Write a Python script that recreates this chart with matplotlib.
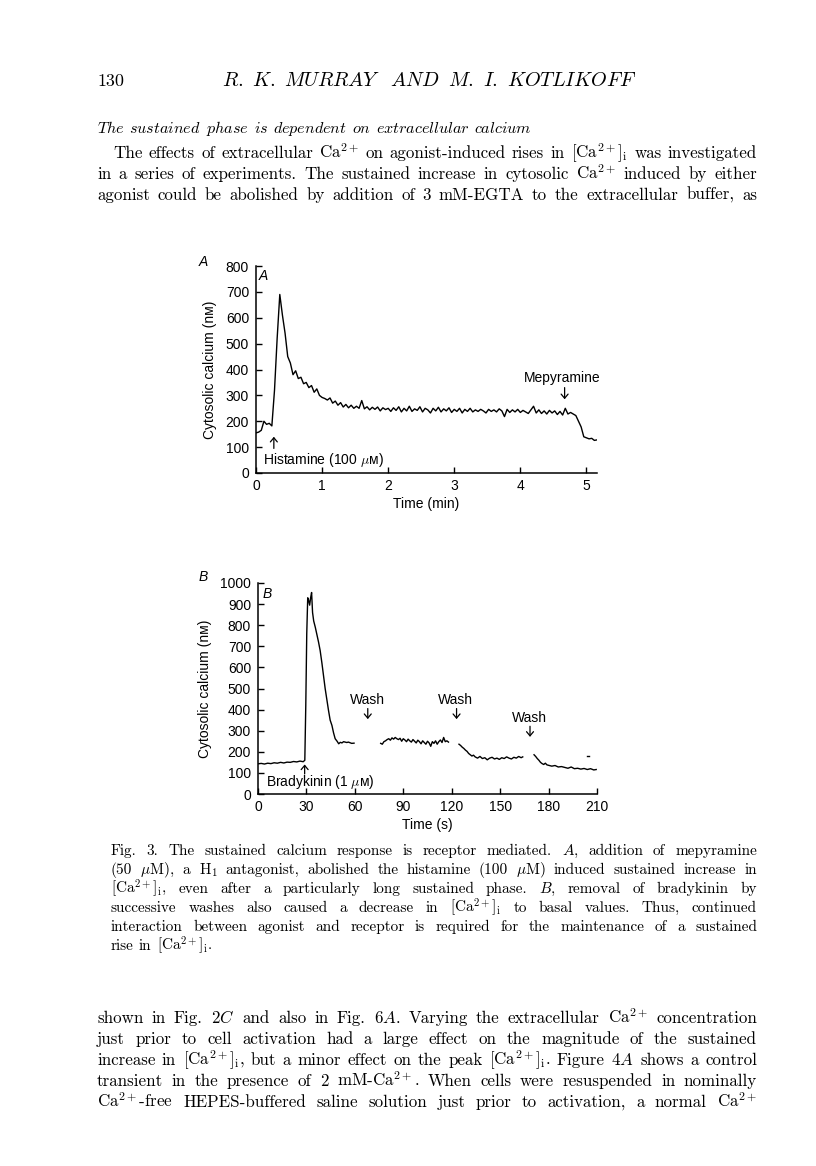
import numpy as np
import matplotlib
matplotlib.use('Agg')
import matplotlib.pyplot as plt

# ---------------------- global style ----------------------
plt.rcParams.update({
    'font.family': ['Liberation Sans', 'DejaVu Sans'],
    'mathtext.fontset': 'cm',
    'axes.linewidth': 1.1,
    'axes.spines.top': False,
    'axes.spines.right': False,
    'xtick.direction': 'in',
    'ytick.direction': 'in',
    'xtick.major.size': 4,
    'ytick.major.size': 4,
    'xtick.major.width': 1.0,
    'ytick.major.width': 1.0,
    'xtick.labelsize': 10,
    'ytick.labelsize': 10,
    'axes.labelsize': 10,
})

W, H = 816, 1166
SERIF = ['cmr10', 'DejaVu Sans']

# ---------------------- data: panel A (histamine, min) ----------------------
hist_dt = 0.04  # sampling step (min)
hist_ca = [
    155, 158, 165, 200, 188, 192, 182, 320, 520, 690,
    610, 540, 450, 425, 380, 395, 365, 370, 345, 350,
    330, 338, 312, 325, 300, 292, 288, 282, 290, 270,
    278, 262, 272, 255, 265, 252, 262, 250, 258, 250,
    280, 248, 256, 244, 254, 246, 255, 240, 252, 245,
    250, 238, 252, 242, 256, 236, 250, 240, 258, 238,
    248, 242, 256, 236, 250, 244, 232, 250, 240, 254,
    236, 248, 240, 252, 234, 246, 238, 250, 232, 246,
    238, 250, 236, 244, 238, 246, 240, 232, 246, 238,
    244, 236, 248, 240, 218, 246, 234, 244, 236, 246,
    234, 242, 236, 230, 244, 258, 232, 244, 230, 240,
    228, 242, 232, 240, 226, 238, 224, 250, 228, 234,
    228, 222, 200, 178, 140, 136, 132, 134, 126, 128,
]
hist_time = np.arange(len(hist_ca)) * hist_dt
a_yticks = [0, 100, 200, 300, 400, 500, 600, 700, 800]
a_xticks = [0, 1, 2, 3, 4, 5]

# ---------------------- data: panel B (bradykinin, s) ----------------------
bk_t1 = [0, 2, 4, 6, 8, 10, 12, 14, 16, 18, 20, 22, 24, 26, 28, 29, 29.6, 30.2,
         30.8, 31.3, 32, 32.6, 33.2, 33.8, 34.5, 35.5, 36.5, 37.5, 38.5, 39.6,
         40.6, 41.6, 42.6, 43.7, 44.7, 45.8, 46.8, 47.8, 49, 50, 51, 52, 53, 54,
         55, 56, 57, 58, 59.5]
bk_v1 = [143, 145, 142, 146, 144, 148, 146, 150, 147, 151, 150, 154, 152, 156,
         153, 160, 420, 760, 930, 920, 895, 930, 955, 860, 820, 790, 755, 720,
         680, 620, 560, 500, 450, 395, 350, 325, 290, 262, 250, 238, 245, 242,
         248, 246, 244, 246, 243, 240, 241]
bk_t2 = [76, 77, 78, 79, 80, 81, 82, 83, 84, 85, 86, 87, 88, 89, 90, 91, 92, 93,
         94, 95, 96, 97, 98, 99, 100, 101, 102, 103, 104, 105, 106, 107, 108,
         109, 110, 111, 112, 113, 114, 115, 116, 117, 118]
bk_v2 = [240, 236, 248, 252, 258, 262, 255, 266, 260, 268, 262, 258, 264, 250,
         262, 256, 248, 260, 252, 246, 258, 250, 242, 255, 248, 238, 252, 244,
         236, 250, 242, 226, 248, 240, 252, 236, 248, 256, 244, 268, 248, 252, 246]
bk_t3 = [124.5, 125.5, 126.5, 127.5, 128.5, 129.5, 130.5, 131.5, 132.5, 133.5,
         134.5, 136, 137.5, 139, 140.5, 142, 143.5, 145, 146.5, 148, 149.5, 151,
         152.5, 154, 155.5, 157, 158.5, 160, 161.5, 163, 164]
bk_v3 = [236, 230, 222, 216, 208, 202, 192, 186, 180, 184, 176, 170, 178, 168,
         172, 162, 170, 174, 166, 170, 164, 172, 168, 176, 170, 166, 174, 170,
         178, 172, 176]
bk_t4 = [171, 172, 173, 174, 175, 176, 177, 178, 179, 180, 182, 184, 186, 188,
         190, 192, 194, 196, 198, 200, 202, 204, 206, 208, 209.5]
bk_v4 = [186, 178, 168, 160, 150, 144, 140, 146, 138, 136, 132, 135, 128, 130,
         126, 122, 128, 120, 122, 118, 121, 116, 120, 114, 116]
bk_dot_t = [204, 205]
bk_dot_v = [182, 182]
b_yticks = [0, 100, 200, 300, 400, 500, 600, 700, 800, 900, 1000]
b_xticks = [0, 30, 60, 90, 120, 150, 180, 210]
wash_times = [67.5, 122.5, 168]
wash_levels = [445, 445, 361]

# ---------------------- page text ----------------------
header = "R. K. MURRAY AND M. I. KOTLIKOFF"
heading = "The sustained phase is dependent on extracellular calcium"
para1 = [
    "The effects of extracellular Ca$^{2+}$ on agonist-induced rises in [Ca$^{2+}$]$_\\mathrm{i}$ was investigated",
    "in a series of experiments. The sustained increase in cytosolic Ca$^{2+}$ induced by either",
    "agonist could be abolished by addition of 3 mM-EGTA to the extracellular buffer, as",
]
caption = [
    "Fig. 3. The sustained calcium response is receptor mediated. $A$, addition of mepyramine",
    "(50 $\\mu$M), a H$_1$ antagonist, abolished the histamine (100 $\\mu$M) induced sustained increase in",
    "[Ca$^{2+}$]$_\\mathrm{i}$, even after a particularly long sustained phase. $B$, removal of bradykinin by",
    "successive washes also caused a decrease in [Ca$^{2+}$]$_\\mathrm{i}$ to basal values. Thus, continued",
    "interaction between agonist and receptor is required for the maintenance of a sustained",
    "rise in [Ca$^{2+}$]$_\\mathrm{i}$.",
]
para2 = [
    "shown in Fig. 2$C$ and also in Fig. 6$A$. Varying the extracellular Ca$^{2+}$ concentration",
    "just prior to cell activation had a large effect on the magnitude of the sustained",
    "increase in [Ca$^{2+}$]$_\\mathrm{i}$, but a minor effect on the peak [Ca$^{2+}$]$_\\mathrm{i}$. Figure 4$A$ shows a control",
    "transient in the presence of 2 mM-Ca$^{2+}$. When cells were resuspended in nominally",
    "Ca$^{2+}$-free HEPES-buffered saline solution just prior to activation, a normal Ca$^{2+}$",
]

fig = plt.figure(figsize=(W / 100, H / 100), dpi=100)
fig.patch.set_facecolor('white')
renderer = fig.canvas.get_renderer()


def text_line(y, line, x0, x1=None, size=12.2, gap_em=0.33, center=None, min_gap=5):
    # place each word separately so the line can be justified like the page
    words = line.split()
    objs = [fig.text(0, 1 - y / H, w, fontsize=size, family=SERIF,
                     va='baseline', ha='left') for w in words]
    while True:
        widths = [o.get_window_extent(renderer).width for o in objs]
        if x1 is None or len(words) == 1:
            gap = size * 100 / 72 * gap_em
            break
        gap = (x1 - x0 - sum(widths)) / (len(words) - 1)
        if gap >= min_gap or size < 9:
            break
        size -= 0.2
        for o in objs:
            o.set_fontsize(size)
    if center is not None:
        x0 = center - (sum(widths) + gap * (len(words) - 1)) / 2
    x = x0
    for o, w in zip(objs, widths):
        o.set_x(x / W)
        x += w + gap


def italic(s):
    return " ".join(
        "".join("$\\mathit{%s}$" % c if c.isalpha() else c for c in w) for w in s.split())


# header
fig.text(97 / W, 1 - 86 / H, "130", fontsize=13, family=SERIF, va='baseline')
text_line(86, italic(header), 0, None, size=14.5, gap_em=0.45, center=429)
text_line(133, italic(heading), 97, None, size=11.6, gap_em=0.3)

for i, line in enumerate(para1):
    text_line(158 + 21 * i, line, 113 if i == 0 else 97, 757)
for i, line in enumerate(caption):
    last = i == len(caption) - 1
    text_line(855 + 19 * i, line, 111, None if last else 757, size=11, min_gap=4)
for i, line in enumerate(para2):
    text_line(1023 + 21 * i, line, 97, 757)


# ---------------------- panels ----------------------
def make_axes(left, right, bottom, top):
    return fig.add_axes([left / W, 1 - bottom / H, (right - left) / W, (bottom - top) / H])


def arrow(ax, x, y_from, y_to):
    ax.annotate('', xy=(x, y_to), xytext=(x, y_from),
                arrowprops=dict(arrowstyle='->,head_length=0.3,head_width=0.25',
                                lw=0.9, color='black', shrinkA=0, shrinkB=0))


ylabel = "Cytosolic calcium (n\u1d0d)"

# A
axA = make_axes(256, 597, 473, 266)
axA.plot(hist_time, hist_ca, color='black', lw=1.0)
axA.set_xlim(0, 5.16)
axA.set_ylim(0, 800)
axA.set_xticks(a_xticks)
axA.set_yticks(a_yticks)
axA.tick_params(axis='y', pad=5)
axA.tick_params(axis='x', pad=4)
axA.set_xlabel("Time (min)", labelpad=3)
axA.set_ylabel(ylabel, labelpad=6)
axA.text(0.1, 50, "Histamine (100 $\\mu$\u1d0d)", fontsize=10, va='center', ha='left')
arrow(axA, 0.27, 95, 140)
axA.text(4.63, 368, "Mepyramine", fontsize=10, va='center', ha='center')
arrow(axA, 4.67, 330, 285)
axA.text(0.04, 760, "A", fontsize=10, style='italic', va='center', ha='left')
fig.text(203 / W, 1 - 262 / H, "A", fontsize=10, style='italic', ha='center', va='center')

# B
axB = make_axes(258, 597, 794, 583)
for t, v in [(bk_t1, bk_v1), (bk_t2, bk_v2), (bk_t3, bk_v3), (bk_t4, bk_v4),
             (bk_dot_t, bk_dot_v)]:
    axB.plot(t, v, color='black', lw=1.0)
axB.set_xlim(0, 210)
axB.set_ylim(0, 1000)
axB.set_xticks(b_xticks)
axB.set_yticks(b_yticks)
axB.tick_params(axis='y', pad=5)
axB.tick_params(axis='x', pad=4)
axB.set_xlabel("Time (s)", labelpad=3)
axB.set_ylabel(ylabel, labelpad=6)
axB.text(5, 57, "Bradykinin (1 $\\mu$\u1d0d)", fontsize=10, va='center', ha='left')
arrow(axB, 28.9, 95, 140)
for t, lvl in zip(wash_times, wash_levels):
    axB.text(t, lvl, "Wash", fontsize=10, va='center', ha='center')
    arrow(axB, t + 0.5, lvl - 40, lvl - 90)
axB.text(3, 950, "B", fontsize=10, style='italic', va='center', ha='left')
fig.text(203 / W, 1 - 577 / H, "B", fontsize=10, style='italic', ha='center', va='center')

fig.savefig("out.png", dpi=100, facecolor='white')
plt.close(fig)
